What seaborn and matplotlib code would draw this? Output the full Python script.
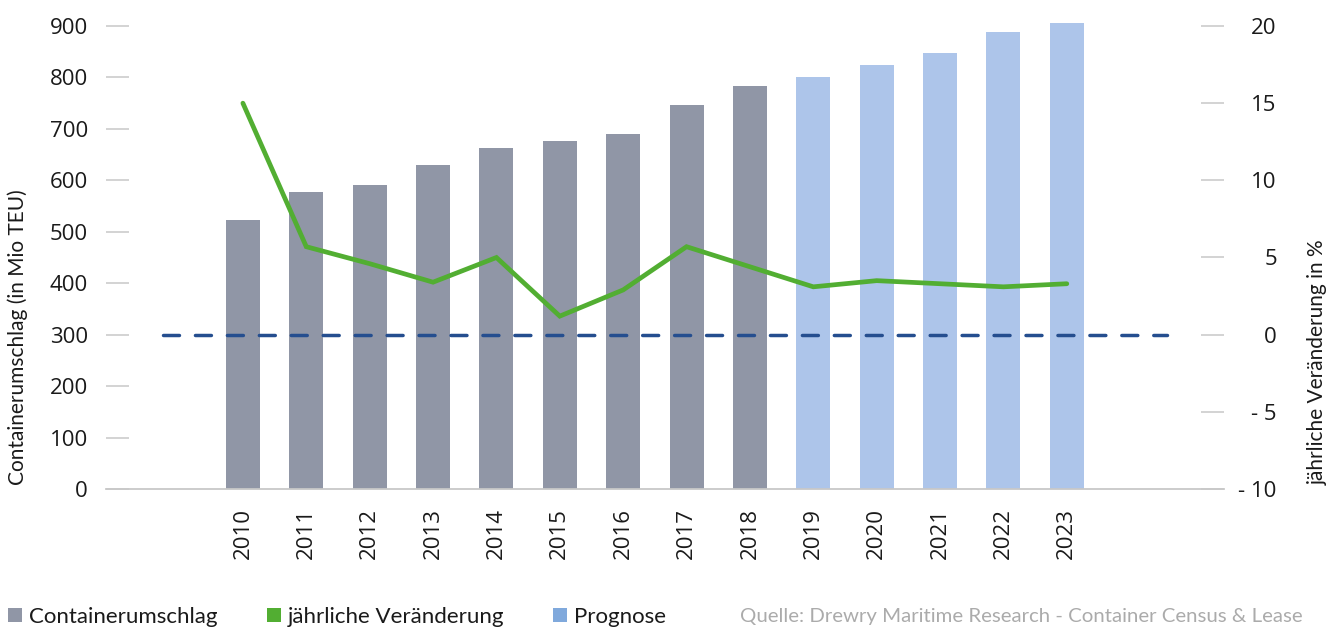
import numpy as np
import pandas as pd
import matplotlib
matplotlib.use("Agg")
import matplotlib.pyplot as plt
import seaborn as sns
from matplotlib.patches import Patch
from matplotlib.ticker import FixedLocator, FuncFormatter

# ---- data ----
years = ["2010", "2011", "2012", "2013", "2014", "2015", "2016",
         "2017", "2018", "2019", "2020", "2021", "2022", "2023"]
throughput = [523, 577, 591, 630, 663, 677, 690, 746, 783, 801, 824, 848, 888, 906]
kind = ["Containerumschlag"] * 9 + ["Prognose"] * 5
change_pct = [15.0, 5.7, 4.6, 3.4, 5.0, 1.2, 2.9, 5.7, 4.4, 3.1, 3.5, 3.3, 3.1, 3.3]
left_ticks = [0, 100, 200, 300, 400, 500, 600, 700, 800, 900]
right_ticks = [-10, -5, 0, 5, 10, 15, 20]
legend_labels = ["Containerumschlag", "jährliche Veränderung", "Prognose"]
ylabel_left = "Containerumschlag (in Mio TEU)"
ylabel_right = "jährliche Veränderung in %"
source = "Quelle: Drewry Maritime Research - Container Census & Lease"

# ---- colours ----
c_gray = "#9096a6"
c_blue = "#adc5ea"
c_blue_leg = "#80a9dc"
c_green = "#52ae32"
c_navy = "#254e8f"
c_tick = "#c8c8c8"

sns.set_style("white")
plt.rcParams["font.family"] = ["Open Sans", "DejaVu Sans"]

W, H = 1332, 629
fig = plt.figure(figsize=(W / 100, H / 100), dpi=100)
ax = fig.add_axes([106 / W, 140 / H, 1118 / W, 463 / H])

df = pd.DataFrame({"year": years, "value": throughput, "kind": kind})
sns.barplot(data=df, x="year", y="value", hue="kind", dodge=False,
            palette={"Containerumschlag": c_gray, "Prognose": c_blue},
            saturation=1, width=0.536, legend=False, ax=ax)
for p in ax.patches:
    p.set_clip_on(False)
    p.set_linewidth(0)

ax.set_ylim(0, 900)
ax.set_xlim(-2.16, 15.48)
ax.yaxis.set_major_locator(FixedLocator(left_ticks))
ax.set_xlabel("")
ax.set_ylabel("")
for s in ["top", "left", "right"]:
    ax.spines[s].set_visible(False)
ax.spines["bottom"].set_color(c_tick)
ax.spines["bottom"].set_linewidth(1.3)
ax.tick_params(axis="y", direction="in", length=16.6, width=1.1, color=c_tick,
               pad=13, labelsize=16, labelcolor="#1a1a1a")
ax.tick_params(axis="x", length=0, pad=13.5, labelsize=16, labelcolor="#1a1a1a",
               labelrotation=90)

# ---- secondary axis ----
ax2 = ax.twinx()
ax2.set_ylim(-10, 20)
ax2.axhline(0, xmin=(163 - 106) / 1118, xmax=(1167 - 106) / 1118, color=c_navy,
            lw=2.5, dashes=(4.6, 4.6), dash_capstyle="round", zorder=2)
sns.lineplot(x=np.arange(len(years)), y=change_pct, ax=ax2, color=c_green,
             lw=3.4, zorder=3, solid_joinstyle="miter")
ax2.set_xlim(-2.16, 15.48)
ax2.yaxis.set_major_locator(FixedLocator(right_ticks))
ax2.yaxis.set_major_formatter(FuncFormatter(
    lambda v, p: f"- {abs(int(v))}" if v < 0 else f"{int(v)}"))
for s in ["top", "left", "right", "bottom"]:
    ax2.spines[s].set_visible(False)
ax2.tick_params(axis="y", direction="in", length=16.6, width=1.1, color=c_tick,
                pad=38, labelsize=16, labelcolor="#1a1a1a")
for lab in ax2.get_yticklabels():
    lab.set_horizontalalignment("right")
ax2.set_ylabel("")

# ---- axis titles ----
fig.text(18 / W, 1 - 337 / H, ylabel_left, rotation=90, ha="center", va="center",
         fontsize=15, family=["Lato", "DejaVu Sans"], color="#1a1a1a")
fig.text(1318 / W, 1 - 362 / H, ylabel_right, rotation=90, ha="center", va="center",
         fontsize=15, family=["Lato", "DejaVu Sans"], color="#1a1a1a")

# ---- legend ----
handles = [Patch(facecolor=c_gray, edgecolor="none"),
           Patch(facecolor=c_green, edgecolor="none"),
           Patch(facecolor=c_blue_leg, edgecolor="none")]
leg = fig.legend(handles, legend_labels, loc="lower left",
                 bbox_to_anchor=(6 / W, 0 / H), ncol=3, frameon=False,
                 prop={"family": ["Lato", "DejaVu Sans"], "size": 16},
                 handlelength=0.64, handleheight=0.64, handletextpad=0.3,
                 columnspacing=2.2, borderpad=0.1, borderaxespad=0)
for t in leg.get_texts():
    t.set_color("#1a1a1a")

fig.text(1303 / W, 4 / H, source, ha="right", va="bottom", fontsize=14.7,
         family=["Lato", "DejaVu Sans"], color="#ababab")

fig.savefig("out.png", dpi=100)
